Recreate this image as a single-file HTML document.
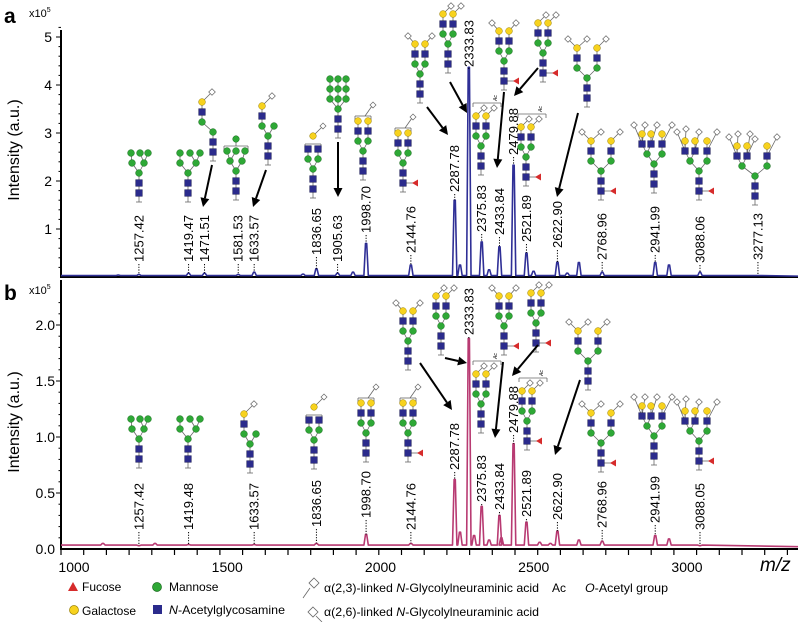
<!DOCTYPE html>
<html><head><meta charset="utf-8"><style>
html,body{margin:0;padding:0;background:#fff;}
svg{display:block;font-family:"Liberation Sans",sans-serif;}
</style></head><body>
<svg id="fig" width="798" height="622" viewBox="0 0 798 622" xmlns="http://www.w3.org/2000/svg">
<g id="axes"></g>
<g id="specs"></g>
<g id="labels"></g>
<g id="glycans"></g>
<g id="arrows"></g>
<g id="legend">
  <polygon points="73,582 78,591 68,591" fill="#d62b2b"/>
  <text x="82" y="591" font-size="12">Fucose</text>
  <circle cx="157" cy="587" r="4.5" fill="#2ea836" stroke="#1a6a1f" stroke-width="0.7"/>
  <text x="169" y="591" font-size="12">Mannose</text>
  <line x1="303" y1="598" x2="310" y2="588" stroke="#666" stroke-width="0.8"/>
  <polygon points="314,578 319,583 314,588 309,583" fill="#fff" stroke="#666" stroke-width="0.8"/>
  <text x="324" y="592" font-size="12" textLength="215" lengthAdjust="spacingAndGlyphs">α(2,3)-linked <tspan font-style="italic">N</tspan>-Glycolylneuraminic acid</text>
  <text x="552" y="592" font-size="12">Ac</text>
  <text x="585" y="592" font-size="12" textLength="83" lengthAdjust="spacingAndGlyphs"><tspan font-style="italic">O</tspan>-Acetyl group</text>
  <circle cx="74" cy="610" r="4.5" fill="#f7d21e" stroke="#9a8000" stroke-width="0.7"/>
  <text x="82" y="615" font-size="12">Galactose</text>
  <rect x="153" y="605" width="9" height="9" fill="#2b2b8c"/>
  <text x="169" y="614" font-size="12" textLength="116" lengthAdjust="spacingAndGlyphs"><tspan font-style="italic">N</tspan>-Acetylglycosamine</text>
  <polygon points="313,607 318,612 313,617 308,612" fill="#fff" stroke="#666" stroke-width="0.8"/>
  <line x1="316" y1="616" x2="322" y2="622" stroke="#666" stroke-width="0.8"/>
  <text x="324" y="616" font-size="12" textLength="215" lengthAdjust="spacingAndGlyphs">α(2,6)-linked <tspan font-style="italic">N</tspan>-Glycolylneuraminic acid</text>
</g>
<text x="4" y="23" font-size="21" font-weight="bold">a</text>
<text x="4" y="300" font-size="21" font-weight="bold">b</text>
<text x="29" y="17" font-size="11">x10<tspan dy="-5" font-size="7">5</tspan></text>
<text x="29" y="294" font-size="11">x10<tspan dy="-5" font-size="7">5</tspan></text>
<text transform="translate(19,150) rotate(-90)" text-anchor="middle" font-size="16">Intensity (a.u.)</text>
<text transform="translate(19,422) rotate(-90)" text-anchor="middle" font-size="16">Intensity (a.u.)</text>
<text x="760" y="571" font-size="19" font-style="italic">m/z</text>
</svg>
<script>
const xTicks = [1000,1500,2000,2500,3000];
const yTicksA = [1,2,3,4,5];
const yTickLabelsB = ["0.0","0.5","1.0","1.5","2.0"];
const yTicksB = [0,0.5,1.0,1.5,2.0];
const mzA = [1257.42,1419.47,1471.51,1581.53,1633.57,1836.65,1905.63,1998.70,2144.76,2287.78,2333.83,2375.83,2433.84,2479.88,2521.89,2622.90,2768.96,2941.99,3088.06,3277.13];
const intA = [0.05,0.08,0.08,0.05,0.10,0.17,0.08,0.70,0.25,1.60,4.37,0.73,0.63,2.33,0.50,0.31,0.10,0.30,0.10,0.03];
const labelYA = [262,262,262,262,262,255,262,233,253,192,67,232,235,155,242,248,260,253,263,260];
const extraMzA = [1190,1793,1956,2305,2400,2545,2655,2693,2987];
const extraIntA = [0.04,0.06,0.10,0.25,0.15,0.12,0.08,0.30,0.25];
const mzB = [1257.42,1419.48,1633.57,1836.65,1998.70,2144.76,2287.78,2333.83,2375.83,2433.84,2479.88,2521.89,2622.90,2768.96,2941.99,3088.05];
const intB = [0.03,0.04,0.04,0.05,0.13,0.05,0.62,1.88,0.38,0.30,0.94,0.24,0.16,0.07,0.12,0.03];
const labelYB = [530,530,530,527,518,530,470,335,502,510,433,517,520,528,523,530];
const extraMzB = [1140,1310,2305,2351,2400,2440,2565,2600,2693,2987];
const extraIntB = [0.05,0.05,0.15,0.12,0.08,0.10,0.06,0.05,0.08,0.09];

const NS="http://www.w3.org/2000/svg";
function el(tag,attrs,parent){const e=document.createElementNS(NS,tag);for(const k in attrs)e.setAttribute(k,attrs[k]);parent.appendChild(e);return e;}
const X = m => 60 + (m-1000)*0.3065;
const YA = v => 277 - v*48;
const YB = v => 549 - v*112;

const axes=document.getElementById('axes');
let l=el('line',{x1:61,y1:30,x2:61,y2:278,stroke:'#000','stroke-width':2},axes);


l=el('line',{x1:60,y1:277,x2:798,y2:277,stroke:'#000','stroke-width':2},axes);


for(let v=0.2;v<=5.4;v+=0.2){const y=YA(v);el('line',{x1:Math.abs(v-Math.round(v))<0.01?56:58.5,y1:y,x2:61,y2:y,stroke:'#000','stroke-width':1},axes);}
yTicksA.forEach(v=>{const t=el('text',{x:52,y:YA(v)+5,'text-anchor':'end','font-size':14},axes);t.textContent=v;

});
l=el('line',{x1:61,y1:280,x2:61,y2:550,stroke:'#000','stroke-width':2},axes);


l=el('line',{x1:60,y1:549,x2:798,y2:549,stroke:'#000','stroke-width':2},axes);


for(let v=0.1;v<=2.25;v+=0.1){const y=YB(v);const maj=Math.abs(v*2-Math.round(v*2))<0.01;el('line',{x1:maj?56:58.5,y1:y,x2:61,y2:y,stroke:'#000','stroke-width':1},axes);}
yTicksB.forEach((v,i)=>{const t=el('text',{x:55,y:YB(v)+5,'text-anchor':'end','font-size':14},axes);t.textContent=yTickLabelsB[i];

});
for(let x=61;x<798;x+=22.7){el('line',{x1:x,y1:549,x2:x,y2:555,stroke:'#000','stroke-width':1.2},axes);}
xTicks.forEach(m=>{const t=el('text',{x:X(m)+14,y:572,'text-anchor':'middle','font-size':14},axes);t.textContent=m;

});

const specs=document.getElementById('specs');
function spectrum(mz,it,emz,eit,Y,base,color,name){
  const pk=mz.map((m,i)=>[m,it[i]]).concat(emz.map((m,i)=>[m,eit[i]])).sort((a,b)=>a[0]-b[0]);
  let d='M61,'+Y(base);
  pk.forEach(([m,v])=>{const x=X(m);d+=' L'+(x-2.2)+','+Y(base)+' L'+(x-0.6)+','+Y(v)+' L'+(x+0.6)+','+Y(v)+' L'+(x+2.2)+','+Y(base);});
  d+=' L798,'+Y(base*0.6);
  const p=el('path',{d:d,fill:'none',stroke:color,'stroke-width':1.6,'stroke-linejoin':'round'},specs);
  
  
}
spectrum(mzA,intA,extraMzA,extraIntA,YA,0.03,'#2f2f96','spectrum-a');
spectrum(mzB,intB,extraMzB,extraIntB,YB,0.035,'#b83a72','spectrum-b');

const labs=document.getElementById('labels');
function labels(mz,it,ly,Y,panel){
  mz.forEach((m,i)=>{const x=X(m);
    el('line',{x1:x,y1:ly[i]+2,x2:x,y2:Y(it[i]),stroke:'#000','stroke-width':1,'stroke-dasharray':'1.2,1.5'},labs);
    const t=el('text',{transform:`translate(${x+4.5},${ly[i]}) rotate(-90)`,'font-size':13},labs);
    t.textContent=m.toFixed(2);
    
    
  });
}
labels(mzA,intA,labelYA,YA,'a');
labels(mzB,intB,labelYB,YB,'b');

const gg=document.getElementById('glycans');
const CORE=[['N',0,0,-1],['N',0,-10,0],['M',0,-20,1]];
function man6(){return CORE.concat([['M',-7,-30,2],['M',5,-30,2],['M',-8,-40,3],['M',1,-40,4],['M',9,-40,4]]);}
function man7(){return CORE.concat([['M',-8,-30,2],['M',8,-30,2],['M',-8,-40,3],['M',2,-40,4],['M',12,-40,4]]);}
function man9(){return CORE.concat([['M',-8,-30,2],['M',0,-30,2],['M',8,-30,2],['M',-8,-40,3],['M',0,-40,4],['M',8,-40,5],['M',-8,-50,6],['M',0,-50,7],['M',8,-50,8]]);}
function hybrid(){return CORE.concat([['M',-6,-30,2],['M',6,-30,2],['N',-6,-40,3],['G',-6,-50,5],['S',4,-60,6]]);}
function hybrid2(){return CORE.concat([['M',-11,-30,2],['N',-11,-40,3],['G',-11,-50,4],['S',-1,-60,5]]);}
function bi(opt){let n=CORE.concat([['M',-5,-30,2],['M',5,-30,2],['N',-5,-40,3],['N',5,-40,4]]);
  if(opt.bracketN){return n;}
  n=n.concat([['G',-5,-50,5],['G',5,-50,6]]);
  if(opt.s==2){ if(opt.up) n=n.concat([['S',3,-58,7],['S',13,-58,8]]); else n=n.concat([['S',-12,-58,7],['S',12,-58,8]]);}
  return n;}
function wide3(){return CORE.concat([['M',-10,-30,2],['M',10,-30,2],['N',-10,-40,3],['N',10,-40,4],['G',-10,-50,5],['G',10,-50,6],['S',-19,-59,7],['S',0,-59,7],['S',19,-59,8]]);}
function tetra(a,b,c,s){return CORE.concat([['M',Math.round((a+b)/2),-30,2],['M',c,-30,2],['N',a,-40,3],['N',b,-40,3],['N',c,-40,4],['G',a,-50,5],['G',b,-50,6],['G',c,-50,7]]).concat(s);}

function drawGlycan(x,by,nodes,opt,name){
  const g=el('g',{},gg);
  
  
  const oy=by-9;
  const P=nodes.map(n=>[x+n[1],oy+n[2]]);
  el('line',{x1:x,y1:oy,x2:x,y2:by,stroke:'#666','stroke-width':0.8},g);
  el('line',{x1:x-3,y1:by,x2:x+3,y2:by,stroke:'#666','stroke-width':0.8},g);
  nodes.forEach((n,i)=>{if(n[3]>=0)el('line',{x1:P[i][0],y1:P[i][1],x2:P[n[3]][0],y2:P[n[3]][1],stroke:'#666','stroke-width':0.8},g);});
  if(opt.fuc){el('line',{x1:x,y1:oy,x2:x+12,y2:oy,stroke:'#666','stroke-width':0.8},g);
    el('polygon',{points:`${x+9},${oy} ${x+15},${oy-3.5} ${x+15},${oy+3.5}`,fill:'#d62b2b'},g);}
  if(opt.bracket){const top=Math.min(...P.map(p=>p[1]))-5;const xs=P.map(p=>p[0]);const x0=Math.min(...xs)-3,x1=Math.max(...xs)+3+(opt.ac?4:0);
    el('line',{x1:x0,y1:top,x2:x1,y2:top,stroke:'#666','stroke-width':0.8},g);
    el('line',{x1:x0,y1:top,x2:x0,y2:top+4,stroke:'#666','stroke-width':0.8},g);
    el('line',{x1:x1,y1:top,x2:x1,y2:top+4,stroke:'#666','stroke-width':0.8},g);
    if(opt.top==='M'){el('line',{x1:x,y1:top,x2:x,y2:top-4,stroke:'#666','stroke-width':0.8},g);el('circle',{cx:x,cy:top-7,r:3.3,fill:'#2ea836',stroke:'#1a6a1f','stroke-width':0.5},g);}
    if(opt.top==='GS'){const gx=x,gy=top-8;el('line',{x1:gx,y1:gy,x2:gx+9,y2:gy-9,stroke:'#666','stroke-width':0.8},g);
      el('circle',{cx:gx,cy:gy,r:3.3,fill:'#f7d21e',stroke:'#9a8000','stroke-width':0.5},g);
      el('polygon',{points:`${gx+10},${gy-13} ${gx+13},${gy-10} ${gx+10},${gy-7} ${gx+7},${gy-10}`,fill:'#fff',stroke:'#666','stroke-width':0.7},g);}
    if(opt.top==='S'){const sx=x1-2,sy=top-8;el('line',{x1:x1-6,y1:top,x2:sx+3,y2:sy-2,stroke:'#666','stroke-width':0.8},g);
      el('polygon',{points:`${sx+4},${sy-6} ${sx+7},${sy-3} ${sx+4},${sy} ${sx+1},${sy-3}`,fill:'#fff',stroke:'#666','stroke-width':0.7},g);}
    if(opt.ac){const t=el('text',{transform:`translate(${x1-4},${top-2}) rotate(-90)`,'font-size':5,'font-style':'italic'},g);t.textContent='Ac';}
  }
  nodes.forEach((n,i)=>{const [px,py]=P[i];
    if(n[0]==='N')el('rect',{x:px-3.3,y:py-3.3,width:6.6,height:6.6,fill:'#2b2b8c',stroke:'#15154f','stroke-width':0.5},g);
    else if(n[0]==='M')el('circle',{cx:px,cy:py,r:3.4,fill:'#2ea836',stroke:'#1a6a1f','stroke-width':0.5},g);
    else if(n[0]==='G')el('circle',{cx:px,cy:py,r:3.4,fill:'#f7d21e',stroke:'#9a8000','stroke-width':0.5},g);
    else if(n[0]==='S')el('polygon',{points:`${px},${py-3.3} ${px+3.3},${py} ${px},${py+3.3} ${px-3.3},${py}`,fill:'#fff',stroke:'#666','stroke-width':0.7},g);
  });
}
const T3=(s)=>tetra(-12,-3,8,s);
const glycA=[
 [139,202,man6(),{}],[188,202,man7(),{}],[213,161,hybrid2(),{}],
 [236,200,CORE.concat([['M',-6,-30,2],['M',6,-30,2],['M',-9,-40,3],['M',0,-40,3],['M',9,-40,4]]),{bracket:1,top:'M'}],
 [268,165,hybrid(),{}],[313,198,bi({bracketN:1}),{bracket:1,top:'GS'}],[338,138,man9(),{}],
 [363,180,bi({}),{bracket:1,top:'S'}],[403,192,bi({}),{bracket:1,top:'S',fuc:1}],
 [420,103,bi({s:2}),{}],[448,73,bi({s:2,up:1}),{}],[481,175,bi({s:2,up:1}),{bracket:1,ac:1}],
 [504,90,bi({s:2}),{fuc:1}],[526,186,bi({s:2,up:1}),{bracket:1,ac:1,fuc:1}],[543,82,bi({s:2,up:1}),{fuc:1}],
 [587,107,wide3(),{}],[601,200,wide3(),{fuc:1}],
 [654,193,T3([['S',-20,-59,5],['S',-9,-59,5],['S',3,-59,6],['S',18,-59,7]]),{}],
 [699,200,tetra(-14,-4,8,[['S',-22,-59,5],['S',-13,-62,5],['S',0,-59,6],['S',18,-59,7]]),{fuc:1}],
 [755,205,tetra(-18,-8,12,[['S',-26,-59,5],['S',-17,-62,5],['S',-5,-62,6],['S',0,-57,6],['S',22,-59,7]]),{}]
];
const glycB=[
 [139,468,man6(),{}],[188,468,man7(),{}],[250,473,hybrid(),{}],[314,469,bi({bracketN:1}),{bracket:1,top:'GS'}],
 [366,462,bi({}),{bracket:1,top:'S'}],[408,462,bi({}),{bracket:1,top:'S',fuc:1}],[408,370,bi({s:2}),{}],
 [441,355,bi({s:2,up:1}),{}],[481,433,bi({s:2,up:1}),{bracket:1,ac:1}],[504,355,bi({s:2}),{fuc:1}],
 [536,352,bi({s:2,up:1}),{fuc:1}],[527,450,bi({s:2,up:1}),{bracket:1,ac:1,fuc:1}],
 [588,390,wide3(),{}],[601,472,wide3(),{fuc:1}],
 [654,465,T3([['S',-20,-59,5],['S',-9,-59,5],['S',3,-59,6],['S',18,-59,7]]),{}],
 [699,470,tetra(-14,-4,8,[['S',-22,-59,5],['S',-13,-62,5],['S',0,-59,6],['S',18,-59,7]]),{fuc:1}]
];
glycA.forEach(g=>drawGlycan(g[0],g[1],g[2],g[3],'glycan-a'));
glycB.forEach(g=>drawGlycan(g[0],g[1],g[2],g[3],'glycan-b'));

const ar=document.getElementById('arrows');
const arrowList=[[212,165,203,207],[266,170,253,207],[338,142,338,197],[427,107,448,135],[450,82,467,113],[504,92,497,168],[538,68,514,96],[578,113,557,197],
 [420,363,452,410],[445,358,467,363],[503,362,495,438],[538,345,512,376],[580,380,555,455]];
arrowList.forEach(a=>{const [x1,y1,x2,y2]=a;const ang=Math.atan2(y2-y1,x2-x1);const L=9,W=4.5;
  const bx=x2-L*Math.cos(ang),by=y2-L*Math.sin(ang);
  const g=el('g',{},ar);
  
  
  el('line',{x1:x1,y1:y1,x2:bx,y2:by,stroke:'#000','stroke-width':2},g);
  el('polygon',{points:`${x2},${y2} ${bx+W*Math.sin(ang)},${by-W*Math.cos(ang)} ${bx-W*Math.sin(ang)},${by+W*Math.cos(ang)}`,fill:'#000'},g);
});
</script>
</body></html>
